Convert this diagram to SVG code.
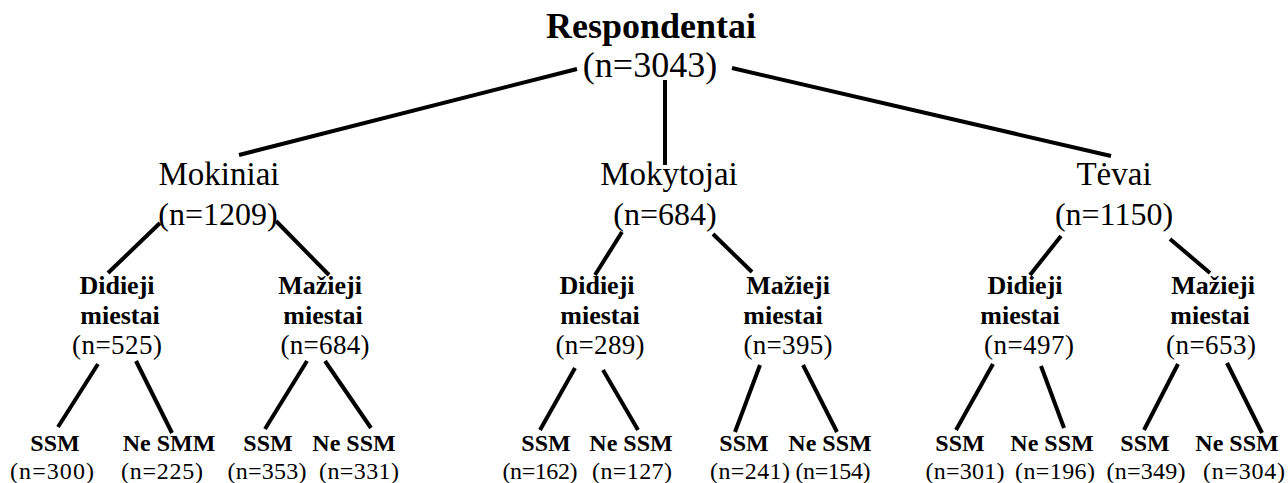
<svg xmlns="http://www.w3.org/2000/svg" width="1288" height="483" viewBox="0 0 1288 483">
<style>
.t0{font-size:36px;font-weight:bold}
.n0{font-size:36px}
.t1{font-size:33px}
.n1{font-size:32px}
.t2{font-size:26px;font-weight:bold}
.n2{font-size:27px}
.t3{font-size:24px;font-weight:bold}
.n3{font-size:24px}
#connectors line{stroke:#000;stroke-width:4;stroke-linecap:butt}
</style>
<rect width="1288" height="483" fill="#fff"/>
<g id="connectors">
<line x1="577" y1="69" x2="239" y2="155"/>
<line x1="665" y1="80" x2="665" y2="165"/>
<line x1="732" y1="68" x2="1111" y2="156"/>
<line x1="160" y1="223" x2="108" y2="273"/>
<line x1="276" y1="221" x2="329" y2="275"/>
<line x1="622" y1="232" x2="595" y2="275"/>
<line x1="713" y1="234" x2="752" y2="272"/>
<line x1="1061" y1="236" x2="1030" y2="275"/>
<line x1="1170" y1="239" x2="1210" y2="273"/>
<line x1="98" y1="364" x2="58" y2="427"/>
<line x1="136" y1="361" x2="172" y2="433"/>
<line x1="307" y1="361" x2="265" y2="429"/>
<line x1="325" y1="361" x2="371" y2="428"/>
<line x1="575" y1="368" x2="540" y2="430"/>
<line x1="603" y1="370" x2="638" y2="430"/>
<line x1="760" y1="365" x2="735" y2="432"/>
<line x1="803" y1="365" x2="837" y2="432"/>
<line x1="993" y1="364" x2="956" y2="430"/>
<line x1="1041" y1="366" x2="1064" y2="428"/>
<line x1="1178" y1="364" x2="1144" y2="430"/>
<line x1="1227" y1="363" x2="1262" y2="433"/>
</g>
<g font-family="Liberation Serif, serif" fill="#000" text-anchor="middle">
<g id="root">
<text class="t0" x="651" y="38">Respondentai</text>
<text class="n0" x="650" y="77">(n=3043)</text>
</g>
<g id="mokiniai">
<text class="t1" x="219" y="185">Mokiniai</text>
<text class="n1" x="218" y="225">(n=1209)</text>
</g>
<g id="mokytojai">
<text class="t1" x="669" y="185">Mokytojai</text>
<text class="n1" x="665" y="225">(n=684)</text>
</g>
<g id="tevai">
<text class="t1" x="1114" y="185">Tėvai</text>
<text class="n1" x="1114" y="225">(n=1150)</text>
</g>
<g id="mok-didieji">
<text class="t2" x="117" y="294">Didieji</text>
<text class="t2" x="120" y="324">miestai</text>
<text class="n2" x="117" y="354" textLength="90">(n=525)</text>
</g>
<g id="mok-mazieji">
<text class="t2" x="320" y="294">Mažieji</text>
<text class="t2" x="323" y="324">miestai</text>
<text class="n2" x="325" y="354" textLength="89">(n=684)</text>
</g>
<g id="mkt-didieji">
<text class="t2" x="597" y="294">Didieji</text>
<text class="t2" x="600" y="324">miestai</text>
<text class="n2" x="600" y="354" textLength="89">(n=289)</text>
</g>
<g id="mkt-mazieji">
<text class="t2" x="788" y="294">Mažieji</text>
<text class="t2" x="783" y="324">miestai</text>
<text class="n2" x="788" y="354" textLength="89">(n=395)</text>
</g>
<g id="tev-didieji">
<text class="t2" x="1025" y="294">Didieji</text>
<text class="t2" x="1020" y="324">miestai</text>
<text class="n2" x="1029" y="354" textLength="90">(n=497)</text>
</g>
<g id="tev-mazieji">
<text class="t2" x="1213" y="294">Mažieji</text>
<text class="t2" x="1210" y="324">miestai</text>
<text class="n2" x="1211" y="354" textLength="90">(n=653)</text>
</g>
<g id="leaf1"><text class="t3" x="55" y="451">SSM</text><text class="n3" x="52" y="479" textLength="84">(n=300)</text></g>
<g id="leaf2"><text class="t3" x="169" y="451">Ne SMM</text><text class="n3" x="162" y="479" textLength="82">(n=225)</text></g>
<g id="leaf3"><text class="t3" x="268" y="451">SSM</text><text class="n3" x="267" y="479" textLength="79">(n=353)</text></g>
<g id="leaf4"><text class="t3" x="354" y="451">Ne SSM</text><text class="n3" x="359" y="479" textLength="80">(n=331)</text></g>
<g id="leaf5"><text class="t3" x="546" y="451">SSM</text><text class="n3" x="540" y="479" textLength="75">(n=162)</text></g>
<g id="leaf6"><text class="t3" x="631" y="451">Ne SSM</text><text class="n3" x="632" y="479" textLength="80">(n=127)</text></g>
<g id="leaf7"><text class="t3" x="744" y="451">SSM</text><text class="n3" x="750" y="479" textLength="80">(n=241)</text></g>
<g id="leaf8"><text class="t3" x="830" y="451">Ne SSM</text><text class="n3" x="833" y="479" textLength="75">(n=154)</text></g>
<g id="leaf9"><text class="t3" x="960" y="451">SSM</text><text class="n3" x="965" y="479" textLength="79">(n=301)</text></g>
<g id="leaf10"><text class="t3" x="1052" y="451">Ne SSM</text><text class="n3" x="1055" y="479" textLength="80">(n=196)</text></g>
<g id="leaf11"><text class="t3" x="1145" y="451">SSM</text><text class="n3" x="1146" y="479" textLength="79">(n=349)</text></g>
<g id="leaf12"><text class="t3" x="1237" y="451">Ne SSM</text><text class="n3" x="1244" y="479" textLength="82">(n=304)</text></g>
</g>
</svg>
